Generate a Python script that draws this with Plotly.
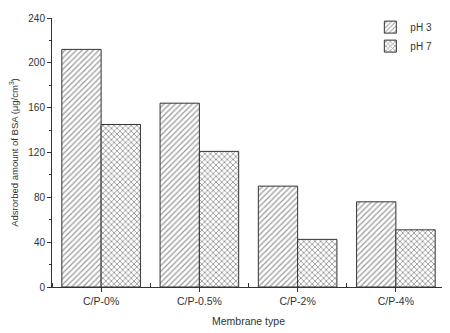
import plotly.graph_objects as go

categories = ["C/P-0%", "C/P-0.5%", "C/P-2%", "C/P-4%"]
ph3 = [212, 164, 90, 76]
ph7 = [145, 121, 42.5, 51]
series_names = ["pH 3", "pH 7"]
x_pos = [0, 1, 2, 3]

fig = go.Figure()
fig.add_trace(go.Bar(
    x=x_pos, y=ph3, name=series_names[0], width=0.4, offset=-0.4,
    marker=dict(color="white", line=dict(color="#333", width=1),
                pattern=dict(shape="/", fgcolor="#333", bgcolor="white", size=4, solidity=0.3)),
))
fig.add_trace(go.Bar(
    x=x_pos, y=ph7, name=series_names[1], width=0.4, offset=0,
    marker=dict(color="white", line=dict(color="#333", width=1),
                pattern=dict(shape="x", fgcolor="#333", bgcolor="white", size=4, solidity=0.4)),
))

font = dict(family="Liberation Sans, Arial, sans-serif", size=10, color="#333")
fig.update_layout(
    width=442, height=325,
    margin=dict(l=44, r=5, t=8, b=46),
    paper_bgcolor="white", plot_bgcolor="white",
    font=font,
    barmode="overlay",
    showlegend=True,
    legend=dict(x=0.81, y=1.02, xanchor="left", yanchor="top",
                bgcolor="rgba(0,0,0,0)", font=dict(size=10, color="#333"),
                tracegroupgap=0),
    xaxis=dict(
        range=[-0.5, 3.5], tickvals=x_pos, ticktext=categories, automargin=False,
        tickfont=dict(size=10.5),
        showline=True, linecolor="#333", linewidth=1, showgrid=False, zeroline=False,
        ticks="outside", ticklen=4, tickcolor="#333",
        minor=dict(tick0=-0.5, dtick=1, ticks="inside", ticklen=4, tickcolor="#333", showgrid=False),
        title=dict(text="Membrane type", font=dict(size=10.5, color="#333"), standoff=12),
    ),
    yaxis=dict(
        range=[0, 240], tickvals=[0, 40, 80, 120, 160, 200, 240], automargin=False,
        tickfont=dict(size=10),
        showline=True, linecolor="#333", linewidth=1, showgrid=False, zeroline=False,
        ticks="outside", ticklen=4, tickcolor="#333",
        minor=dict(dtick=20, ticks="outside", ticklen=2, tickcolor="#333", showgrid=False),
        title=dict(text="Adsrorbed amount of BSA (μg/cm<sup>3</sup>)", font=dict(size=9.5, color="#333"), standoff=10),
    ),
)

fig.write_html("out.html")
